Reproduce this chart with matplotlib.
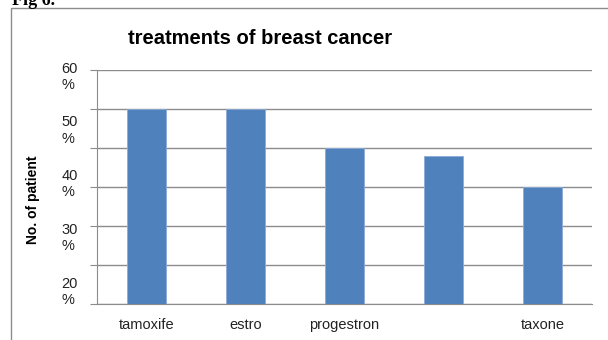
import matplotlib.pyplot as plt
from matplotlib.patches import Rectangle

# treatments and share of patients (%)
treatments = ["tamoxife", "estro", "progestron", "", "taxone"]
patients = [50, 50, 40, 38, 30]

# axis text as printed on the y axis
y_labels = ["60\n%", "50\n%", "40\n%", "30\n%", "20\n%"]
y_label_pos = [58.3, 44.5, 30.7, 16.9, 3.1]

plt.rcParams['font.family'] = ['Liberation Sans', 'DejaVu Sans']

fig = plt.figure(figsize=(6.08, 3.40), dpi=100)
ax = fig.add_axes([97/608, 1 - 304/340, 495/608, 234/340])

# outer chart frame (runs off the right and bottom edges)
fig.patches.append(Rectangle((11/608, -0.1), 1.2, 1 - 8/340 + 0.1, transform=fig.transFigure,
                             fill=False, edgecolor='#8c8c8c', linewidth=1.0))
fig.text(12/608, 1 - 5/340, "Fig 6.", family='Liberation Serif', fontweight='bold',
         fontsize=13, va='baseline', ha='left')

x = range(len(treatments))
ax.bar(x, patients, width=0.39, color='#4F81BD', edgecolor='#8eaad6', linewidth=0.6, zorder=3)

ax.set_xlim(-0.5, len(treatments) - 0.5)
ax.set_ylim(0, 60)
ax.set_xticks(list(x))
ax.set_xticklabels(treatments, fontsize=10.5, color='#222222', va='baseline')
ax.tick_params(axis='x', length=0, pad=18)

ax.set_yticks(range(0, 61, 10))
ax.set_yticklabels([])
ax.tick_params(axis='y', which='major', length=5, color='#8c8c8c')
ax.set_yticks(y_label_pos, minor=True)
ax.set_yticklabels(y_labels, minor=True, fontsize=10.5, color='#222222',
                   va='center', multialignment='left')
ax.tick_params(axis='y', which='minor', length=0, pad=14)

ax.grid(axis='y', which='major', color='#8c8c8c', linewidth=1.0, zorder=0)
ax.set_axisbelow(True)
for side in ['top', 'right']:
    ax.spines[side].set_visible(False)
for side in ['left', 'bottom']:
    ax.spines[side].set_color('#8c8c8c')

ax.set_ylabel("No. of patient", fontsize=10, fontweight='bold')
ax.yaxis.set_label_coords(-57/495, 0.445)

fig.text(260/608, 1 - 39/340, "treatments of breast cancer", fontsize=14.5,
         fontweight='bold', ha='center', va='center')

fig.savefig("out.png", dpi=100)
